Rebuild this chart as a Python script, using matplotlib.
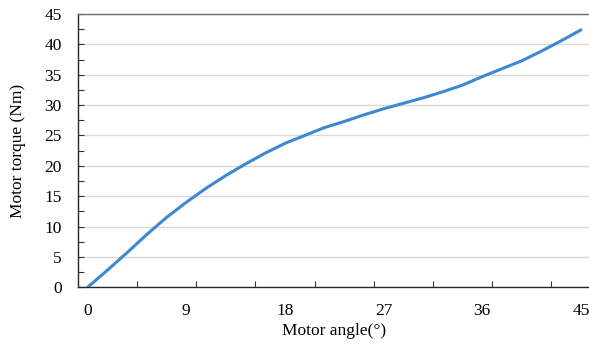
import numpy as np
import matplotlib
matplotlib.use("Agg")
import matplotlib.pyplot as plt
from matplotlib.ticker import MultipleLocator, FixedLocator

# motor angle (deg), one point every 1.8 deg
angle = [0, 1.8, 3.6, 5.4, 7.2, 9.0, 10.8, 12.6, 14.4, 16.2, 18.0, 19.8, 21.6,
         23.4, 25.2, 27.0, 28.8, 30.6, 32.4, 34.2, 36.0, 37.8, 39.6, 41.4, 43.2, 45.0]
# motor torque (Nm)
torque = [0, 2.8, 5.7, 8.7, 11.5, 14.0, 16.3, 18.4, 20.3, 22.1, 23.7, 25.0, 26.3,
          27.3, 28.4, 29.4, 30.3, 31.2, 32.2, 33.3, 34.7, 36.0, 37.3, 38.9, 40.6, 42.4]
label_ticks = [0, 9, 18, 27, 36, 45]

plt.rcParams['font.family'] = ['Liberation Serif', 'DejaVu Serif']

fig = plt.figure(figsize=(5.89, 3.44), dpi=100)
ax = fig.add_axes([0.132, 0.165, 0.871, 0.794])

ax.plot(angle, torque, color='#3d88d0', lw=2.2, solid_capstyle='round', zorder=3)

ax.set_xlim(-0.9, 45.9)
ax.set_ylim(0, 45)

ax.yaxis.set_major_locator(MultipleLocator(5))
ax.yaxis.set_minor_locator(MultipleLocator(2.5))
ax.xaxis.set_major_locator(FixedLocator(label_ticks))
ax.xaxis.set_minor_locator(FixedLocator(np.arange(-0.9 + 5.4, 45.9, 5.4)))

ax.tick_params(axis='y', which='both', direction='in', length=4.5, width=0.8,
               color='#333333', labelsize=12.5, pad=11.5)
ax.tick_params(axis='x', which='major', length=0, labelsize=12.5, pad=11)
ax.tick_params(axis='x', which='minor', direction='in', length=4, width=0.8,
               color='#333333')

ax.grid(axis='y', which='major', color='#d9d9d9', lw=1.0, zorder=0)
ax.set_axisbelow(True)

for s in ['left', 'bottom']:
    ax.spines[s].set_color('#262626')
    ax.spines[s].set_linewidth(1.0)
ax.spines['top'].set_color('#707070')
ax.spines['top'].set_linewidth(1.0)
ax.spines['right'].set_visible(False)

ax.set_xlabel('Motor angle(°)', fontsize=12.5, labelpad=3)
ax.set_ylabel('Motor torque (Nm)', fontsize=12.5, labelpad=13)

fig.savefig('out.png', dpi=100)
